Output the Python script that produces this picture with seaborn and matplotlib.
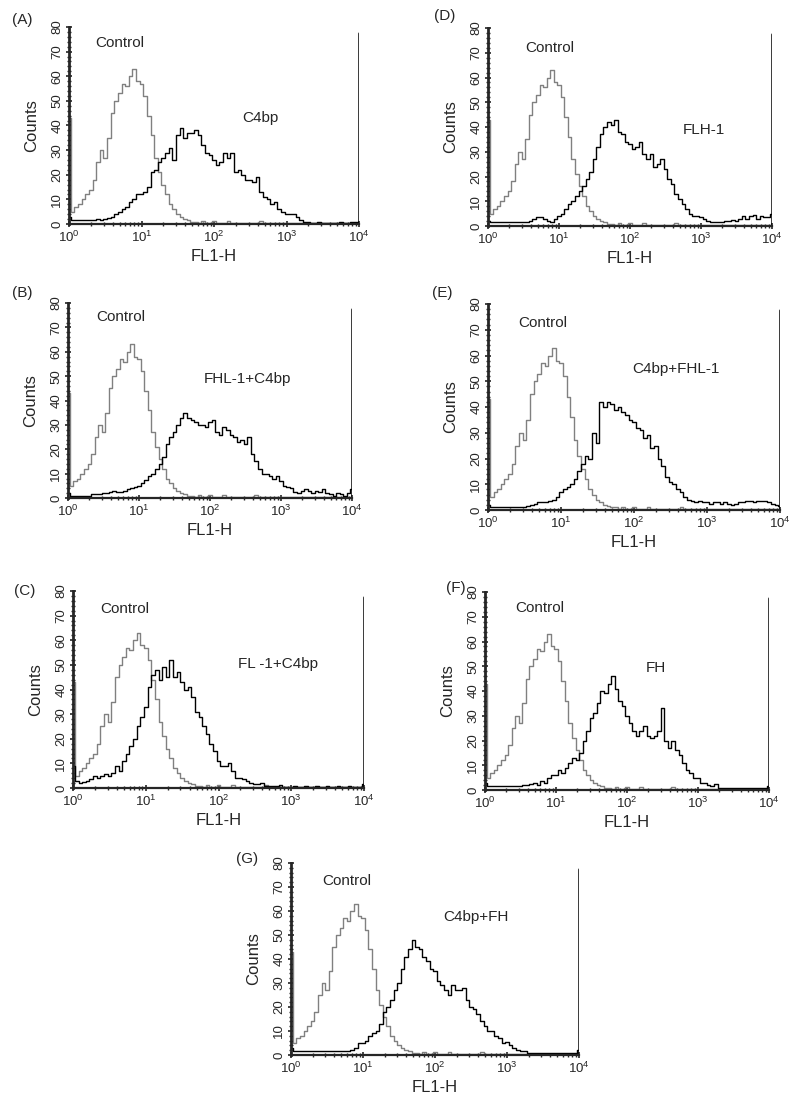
import numpy as np
import pandas as pd
import seaborn as sns
import matplotlib
matplotlib.use("Agg")
from matplotlib import pyplot as plt
from matplotlib.ticker import LogLocator, MultipleLocator, NullFormatter

# FL1-H channels, in decades (10^0 .. 10^4), one bin per 0.05 decade
channel_log = np.round(np.arange(0, 4.001, 0.05), 2)

# counts per channel (10 bins per row, last row = 10^4)
control = [43, 5, 7, 8, 10, 12, 14, 18, 25, 30,
           27, 35, 45, 50, 53, 57, 56, 60, 63, 58,
           57, 52, 44, 36, 27, 21, 16, 12, 8, 6,
           4, 3, 2, 1.5, 1, 1, 0.5, 1.2, 0.5, 0.5,
           1.2, 0.5, 0.5, 0.5, 1.2, 0.5, 0.5, 0.5, 0.5, 0.5,
           0.5, 0.5, 0.5, 1.2, 0.5, 0.5, 0.5, 0.5, 0.5, 0.5,
           0.5, 0.5, 0.5, 0.5, 0.5, 0.5, 0.5, 0.5, 0.5, 0.5,
           0.5, 0.5, 0.5, 0.5, 0.5, 0.5, 0.5, 0.5, 0.5, 0.5,
           0.5]

c4bp = [3, 1.5, 1.5, 1.5, 1.5, 1.5, 1.5, 1.5, 2, 1.5,
        2, 2.5, 3, 4, 5, 6, 7, 9, 10, 12,
        12, 13, 15, 21, 22, 25, 27, 29, 31, 26,
        36, 39, 35, 37, 37, 38, 36, 32, 29, 28,
        26, 24, 25, 29, 27, 29, 21, 22, 20, 18,
        18, 17, 19, 13, 11, 10, 8, 9, 6, 5,
        4, 4, 4, 3, 1.5, 1, 1, 0.5, 0.5, 1,
        0.5, 0.5, 0.5, 0.5, 0.5, 1, 0.5, 0.5, 1, 1,
        1]

fhl1_c4bp = [2, 1, 1, 1, 1, 1, 1, 1.5, 1.5, 1.5,
             2, 2, 2.5, 3, 2.5, 2.5, 3, 3.5, 4, 4.5,
             5, 6, 7.5, 9, 10, 12, 14, 17, 22, 25,
             27, 30, 33, 35, 33, 32, 31, 30, 30, 29,
             31, 32, 27, 26, 29, 28, 26, 25, 23, 24,
             22, 25, 18, 15, 12, 10, 10, 9, 8, 9,
             7, 5, 4.5, 4, 2.5, 2, 3, 3.5, 3, 2,
             3, 2.5, 3.5, 2, 1.5, 1, 2, 1.5, 1, 2,
             3.5]

fl1_c4bp = [9, 3, 2, 2.5, 3, 3.5, 5, 4, 5, 5.5,
            5, 6, 9, 7, 11, 14, 17, 20, 25, 29,
            33, 41, 46, 48, 44, 49, 45, 52, 45, 47,
            43, 40, 41, 37, 31, 29, 25, 22, 18, 15,
            11, 9, 9, 10, 7, 4, 4, 3.5, 3, 2,
            1.5, 1.5, 2, 1, 1, 0.8, 0.8, 1.2, 0.5, 0.5,
            0.5, 1, 0.5, 0.5, 1, 0.5, 0.5, 1, 0.5, 0.5,
            1, 0.5, 0.5, 1, 0.5, 0.5, 1, 0.5, 0.5, 0.5,
            1.5]

flh1 = [2, 1.5, 1.5, 1.5, 1.5, 1.5, 1.5, 1.5, 1.5, 1.5,
        1.5, 1.5, 2, 3, 3.5, 3.5, 3, 2, 1.5, 3,
        4, 5, 7, 9, 10, 12, 14, 16, 19, 22,
        27, 32, 37, 40, 42, 41, 43, 38, 37, 34,
        33, 31, 32, 34, 29, 27, 29, 24, 25, 27,
        23, 19, 17, 13, 11, 9, 7, 5, 4, 4,
        3.5, 3, 2, 1.5, 1.5, 1.5, 1.5, 2, 2, 2.5,
        2, 3, 4, 3, 4, 4.5, 3, 4, 3.5, 3.5,
        5]

c4bp_fhl1 = [2, 1.2, 1.2, 1.2, 1.2, 1.2, 1.2, 1.2, 1.2, 1.2,
             1.2, 1.5, 2, 2.5, 3, 3, 3, 3.5, 4, 5,
             7, 8, 9, 10, 12, 15, 18, 21, 20, 30,
             26, 42, 40, 42, 41, 39, 40, 38, 37, 35,
             34, 32, 31, 28, 29, 24, 25, 20, 17, 13,
             11, 10, 8, 7, 5, 4, 3.5, 3, 3.5, 3,
             3, 2.5, 3, 3, 2.5, 3, 2.5, 2, 2.5, 3,
             3, 3.5, 3.5, 3, 3.5, 3.5, 3.5, 3, 2.5, 2,
             1.5]

fh = [3, 1.5, 1.5, 1.5, 1.5, 1.5, 1.5, 1.5, 1.5, 1.5,
      1.5, 2, 2, 2.5, 3, 2, 3.5, 3, 5, 6,
      6, 8, 7, 9, 11, 13, 12, 15, 20, 24,
      29, 31, 35, 40, 39, 43, 46, 41, 36, 34,
      30, 27, 24, 22, 24, 26, 22, 21, 22, 24,
      33, 20, 17, 20, 16, 14, 11, 8, 7, 5,
      5, 3, 3, 2, 1.5, 2.5, 1, 1, 1, 0.8,
      1, 0.8, 0.8, 1, 0.8, 0.8, 1, 0.8, 0.8, 1,
      1.5]

c4bp_fh = [3, 1.5, 1.5, 1.5, 1.5, 1.5, 1.5, 1.5, 1.5, 1.5,
           1.5, 1.5, 1.5, 1.5, 1.5, 1.5, 1.5, 2, 3, 5,
           5, 6, 8, 9, 10, 13, 18, 20, 23, 27,
           30, 36, 41, 44, 48, 45, 44, 41, 39, 36,
           35, 31, 29, 27, 25, 29, 27, 27, 28, 23,
           20, 19, 17, 14, 12, 10, 10, 8, 7, 5,
           5.5, 4, 3, 2, 1.5, 1.5, 1, 0.8, 0.8, 1,
           0.8, 1, 0.8, 0.8, 1, 0.8, 0.8, 1, 0.8, 1,
           2]

panel_letters = ["(A)", "(D)", "(B)", "(E)", "(C)", "(F)", "(G)"]
sample_names = ["C4bp", "FLH-1", "FHL-1+C4bp", "C4bp+FHL-1",
                "FL -1+C4bp", "FH", "C4bp+FH"]
sample_counts = [c4bp, flh1, fhl1_c4bp, c4bp_fhl1, fl1_c4bp, fh, c4bp_fh]

# layout in pixels: axes box (x of 10^0, x of 10^4, y of 0, y of 80),
# letter position, label positions (axes fraction)
W, H = 800, 1112
boxes = [(69, 359, 224, 27), (488, 772, 226, 28),
         (68, 352, 498, 303), (488, 780, 510, 304),
         (73, 364, 788, 591), (485, 769, 790, 592),
         (291, 579, 1055, 863)]
letter_pos = [(12, 20), (434, 16), (12, 293), (432, 293),
              (14, 591), (446, 588), (236, 859)]
control_pos = [(0.09, 0.92), (0.13, 0.90), (0.10, 0.93), (0.105, 0.91),
               (0.095, 0.91), (0.105, 0.92), (0.108, 0.906)]
sample_pos = [(0.597, 0.54), (0.687, 0.485), (0.479, 0.61), (0.493, 0.685),
              (0.567, 0.63), (0.567, 0.616), (0.528, 0.72)]

sns.set_style("ticks")
plt.rcParams["font.family"] = ["Liberation Sans", "DejaVu Sans"]

fig = plt.figure(figsize=(W / 100, H / 100), dpi=100)

for i in range(7):
    x0, x4, y0, y80 = boxes[i]
    ax = fig.add_axes([x0 / W, 1 - y0 / H, (x4 - x0) / W, (y0 - y80) / H])

    df = pd.DataFrame({
        "FL1-H": np.concatenate([10 ** channel_log, 10 ** channel_log]),
        "Counts": np.concatenate([control, sample_counts[i]]),
        "curve": ["Control"] * len(channel_log) + [sample_names[i]] * len(channel_log),
    })
    ax.set_xscale("log")
    sns.lineplot(data=df, x="FL1-H", y="Counts", hue="curve",
                 palette={"Control": "#808080", sample_names[i]: "black"},
                 estimator=None, drawstyle="steps-mid", linewidth=1.0,
                 legend=False, ax=ax)

    ax.set_xlim(1, 1e4)
    ax.set_ylim(0, 80)
    ax.axvline(1e4, ymax=0.97, color="black", lw=1.8)

    sns.despine(ax=ax)
    ax.spines["left"].set_linewidth(2)
    ax.spines["bottom"].set_linewidth(1.6)

    ax.yaxis.set_major_locator(MultipleLocator(10))
    ax.yaxis.set_minor_locator(MultipleLocator(2))
    ax.xaxis.set_major_locator(LogLocator(base=10, numticks=10))
    ax.xaxis.set_minor_locator(LogLocator(base=10, subs=np.arange(2, 10), numticks=20))
    ax.xaxis.set_minor_formatter(NullFormatter())
    ax.tick_params(axis="both", which="major", direction="inout", length=5,
                   width=1.2, labelsize=9.5, pad=1.5)
    ax.tick_params(axis="both", which="minor", direction="inout", length=3, width=1)
    plt.setp(ax.get_yticklabels(), rotation=90, va="center")

    ax.set_xlabel("FL1-H", fontsize=12, labelpad=3)
    ax.set_ylabel("Counts", fontsize=12, labelpad=9)

    ax.text(*control_pos[i], "Control", transform=ax.transAxes,
            fontsize=11, va="center")
    ax.text(*sample_pos[i], sample_names[i], transform=ax.transAxes,
            fontsize=11, va="center")

    lx, ly = letter_pos[i]
    fig.text(lx / W, 1 - ly / H, panel_letters[i], fontsize=11, va="center")

fig.savefig("out.png", dpi=100)
